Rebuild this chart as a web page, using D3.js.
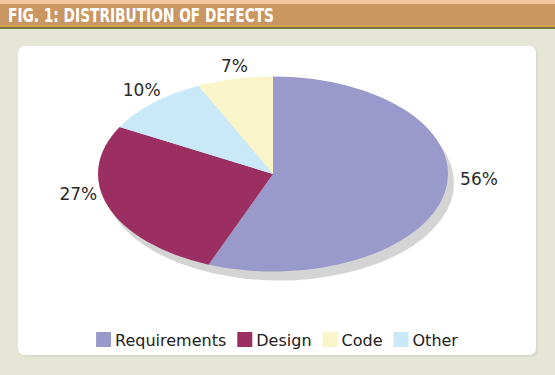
<!DOCTYPE html>
<meta charset="utf-8">
<style>
body { margin: 0; background: #e5e6d6; }
svg { display: block; }
.lbl { font-family: "DejaVu Sans", sans-serif; font-size: 17px; fill: #2a2a2a; }
.leg { font-family: "DejaVu Sans", sans-serif; font-size: 16px; fill: #222; }
</style>
<svg width="555" height="375"></svg>
<script src="https://d3js.org/d3.v7.min.js"></script>
<script>

var categories = ["Requirements", "Design", "Other", "Code"],
    values = [56, 27, 10, 7],
    colors = ["#9a99cb", "#9b2f62", "#c9e9f9", "#faf5c9"],
    legendOrder = ["Requirements", "Design", "Code", "Other"],
    title = "FIG. 1: DISTRIBUTION OF DEFECTS";

var svg = d3.select("svg"),
    width = +svg.attr("width"),
    height = +svg.attr("height");

// header band
svg.append("rect").attr("width", width).attr("height", height).attr("fill", "#e5e6d6");
svg.append("rect").attr("width", width).attr("height", 5).attr("fill", "#f3c79b");
svg.append("rect").attr("y", 4).attr("width", width).attr("height", 22).attr("fill", "#ca9763");
svg.append("rect").attr("y", 25).attr("width", width).attr("height", 2).attr("fill", "#d3a24a");
svg.append("rect").attr("y", 27).attr("width", width).attr("height", 2).attr("fill", "#7c7440");

svg.append("text")
    .attr("x", 8)
    .attr("y", 22)
    .attr("textLength", 266)
    .attr("lengthAdjust", "spacingAndGlyphs")
    .style("font-family", "'DejaVu Sans Condensed', 'DejaVu Sans', sans-serif")
    .style("font-weight", "bold")
    .style("font-size", "19.5px")
    .style("fill", "#fff")
    .text(title);

// white panel
svg.append("rect")
    .attr("x", 20).attr("y", 48).attr("width", 518).attr("height", 309)
    .attr("rx", 7).attr("fill", "#d9dac9");
svg.append("rect")
    .attr("x", 18).attr("y", 46).attr("width", 518).attr("height", 309)
    .attr("rx", 7).attr("fill", "#fff");

// pie
var cx = 273, cy = 174, rx = 175, ry = 97.5, k = ry / rx;

var pie = d3.pie().sort(null).value(function(d) { return d; });
var arcs = pie(values);
var arc = d3.arc().innerRadius(0).outerRadius(rx);

svg.append("ellipse")
    .attr("cx", cx + 6).attr("cy", cy + 9)
    .attr("rx", rx).attr("ry", ry)
    .attr("fill", "#d4d4d4");

var g = svg.append("g")
    .attr("transform", "translate(" + cx + "," + cy + ") scale(1," + k + ")");

g.selectAll("path")
    .data(arcs)
  .enter().append("path")
    .attr("d", arc)
    .attr("fill", function(d, i) { return colors[i]; });

// labels
svg.selectAll(".lbl")
    .data(arcs)
  .enter().append("text")
    .attr("class", "lbl")
    .attr("text-anchor", "middle")
    .attr("dy", "0.35em")
    .attr("x", function(d) {
      var a = (d.startAngle + d.endAngle) / 2, s = Math.sin(a);
      return cx + rx * s + 36 * s * s * s;
    })
    .attr("y", function(d) {
      var a = (d.startAngle + d.endAngle) / 2;
      return cy - ry * Math.cos(a) - 13;
    })
    .text(function(d) { return d.value + "%"; });

// legend
var legend = svg.append("g");
var xpos = 0;
legendOrder.forEach(function(name) {
  var i = categories.indexOf(name);
  var item = legend.append("g").attr("transform", "translate(" + xpos + ",0)");
  item.append("rect")
      .attr("y", -8).attr("width", 15).attr("height", 15)
      .attr("fill", colors[i]);
  var t = item.append("text")
      .attr("class", "leg")
      .attr("x", 19)
      .attr("dy", "0.35em")
      .text(name);
  xpos += 19 + t.node().getComputedTextLength() + 11;
});
xpos -= 11;
legend.attr("transform", "translate(" + (277 - xpos / 2) + ",340)");

</script>
